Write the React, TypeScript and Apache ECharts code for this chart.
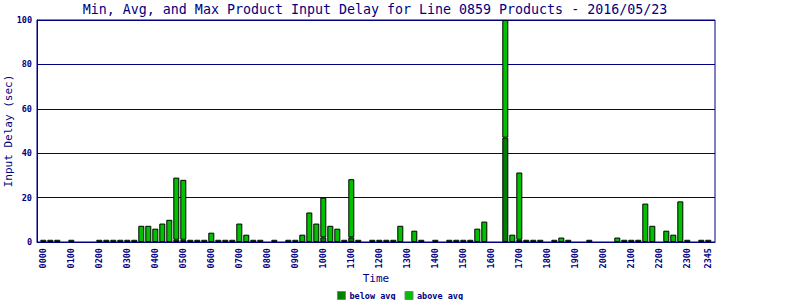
import React, { useEffect, useRef } from "react";
import * as echarts from "echarts";

const titleText = "Min, Avg, and Max Product Input Delay for Line 0859 Products - 2016/05/23";
const seriesNames = ["below avg", "above avg"];
const yTicks = { min: 0, max: 100, interval: 20 };

const times: string[] = [];
for (let h = 0; h < 24; h++) {
  for (let m = 0; m < 60; m += 15) {
    times.push(String(h).padStart(2, "0") + String(m).padStart(2, "0"));
  }
}

const N = null;
// dark green portion (below avg)
const belowAvg: (number | null)[] = [
  N, N, N, N, N, N, N, N,
  N, N, N, N, N, N, N, N,
  N, N, N, 1, 1, N, N, N,
  N, N, N, N, N, N, N, N,
  N, N, N, N, N, N, N, N,
  2.1, N, N, N, 2.1, N, N, N,
  N, N, N, N, N, N, N, N,
  N, N, N, N, N, N, N, N,
  N, N, 47, N, 1, N, N, N,
  N, N, N, N, N, N, N, N,
  N, N, N, N, N, N, N, N,
  N, N, N, N, N, N, N, N,
];
// bright green portion (above avg)
const aboveAvg: (number | null)[] = [
  1, 1, 1, N, 1, N, N, N,
  1, 1, 1, 1, 1, 1, 7.3, 7.3,
  6, 8.3, 10, 28, 27, 1, 1, 1,
  4.2, 1, 1, 1, 8.3, 3.3, 1, 1,
  N, 1, N, 1, 1, 3.3, 13.3, 8.3,
  17.9, 7.3, 6, 1, 26.2, 1, N, 1,
  1, 1, 1, 7.3, N, 5.1, 1, N,
  1, N, 1, 1, 1, 1, 6, 9.2,
  N, N, 53, 3.3, 30.3, 1, 1, 1,
  N, 1, 2, 1, N, N, 1, N,
  N, N, 2, 1, 1, 1, 17.3, 7.3,
  N, 5.1, 3.3, 18.3, 1, N, 1, 1,
];

const NAVY = "#000080";
const DARK = "#008000";
const BRIGHT = "#00c000";
const MONO = "'DejaVu Sans Mono', 'Liberation Mono', monospace";

export default function App() {
  const ref = useRef<HTMLDivElement>(null);
  useEffect(() => {
    if (!ref.current) return;
    const chart = echarts.init(ref.current, undefined, { renderer: "svg" });
    const lastIdx = times.length - 1;
    chart.setOption({
      animation: false,
      backgroundColor: "#ffffff",
      graphic: [
        {
          type: "text",
          x: 375,
          y: 9,
          style: {
            text: titleText,
            fill: NAVY,
            font: `13.3px ${MONO}`,
            textAlign: "center",
            textVerticalAlign: "middle",
          },
        },
      ],
      legend: {
        data: seriesNames,
        left: "center",
        top: 286,
        itemWidth: 8,
        itemHeight: 8,
        itemGap: 9,
        icon: "rect",
        itemStyle: { borderColor: "#808080", borderWidth: 1 },
        textStyle: { color: NAVY, fontFamily: MONO, fontSize: 8.5, fontWeight: "bold", padding: [0, 0, 0, -1] },
      },
      grid: [
        {
          left: 37,
          right: 85,
          top: 20,
          bottom: 58,
          containLabel: false,
          outerBoundsMode: "none",
          show: true,
          borderColor: NAVY,
          borderWidth: 1,
          backgroundColor: "transparent",
        },
        {
          left: 39.8,
          right: 88.2,
          top: 20,
          bottom: 58,
          containLabel: false,
          outerBoundsMode: "none",
        },
      ],
      xAxis: [
        {
          gridIndex: 0,
          type: "value",
          min: 0,
          max: 1,
          name: "Time",
          nameLocation: "middle",
          nameGap: 31,
          nameMoveOverlap: false,
          nameTextStyle: { color: NAVY, fontFamily: MONO, fontSize: 11 },
          axisLine: { show: true, lineStyle: { color: NAVY, width: 1 } },
          axisTick: { show: false },
          axisLabel: { show: false },
          splitLine: { show: false },
        },
        {
          gridIndex: 1,
          type: "category",
          data: times,
          boundaryGap: true,
          axisLine: { show: false },
          axisTick: { show: false },
          axisLabel: {
            interval: (idx: number) => idx % 4 === 0 || idx === lastIdx,
            rotate: 90,
            margin: 6,
            color: NAVY,
            fontFamily: MONO,
            fontSize: 8.5,
            fontWeight: "bold",
          },
        },
      ],
      yAxis: [
        {
          gridIndex: 0,
          type: "value",
          min: yTicks.min,
          max: yTicks.max,
          interval: yTicks.interval,
          name: "Input Delay (sec)",
          nameLocation: "middle",
          nameGap: 23,
          nameMoveOverlap: false,
          nameTextStyle: { color: NAVY, fontFamily: MONO, fontSize: 11 },
          axisLine: { show: true, lineStyle: { color: NAVY, width: 1 } },
          axisTick: { show: false },
          axisLabel: {
            margin: 5,
            color: NAVY,
            fontFamily: MONO,
            fontSize: 8.5,
            fontWeight: "bold",
          },
          splitLine: { show: true, lineStyle: { color: NAVY, width: 1 } },
        },
        {
          gridIndex: 1,
          type: "value",
          min: yTicks.min,
          max: yTicks.max,
          interval: yTicks.interval,
          show: false,
          splitLine: { show: false },
        },
      ],
      series: [
        {
          name: seriesNames[0],
          type: "bar",
          stack: "delay",
          xAxisIndex: 1,
          yAxisIndex: 1,
          data: belowAvg,
          barWidth: 6,
          itemStyle: { color: DARK, borderColor: "#000000", borderWidth: 1 },
        },
        {
          name: seriesNames[1],
          type: "bar",
          stack: "delay",
          xAxisIndex: 1,
          yAxisIndex: 1,
          data: aboveAvg,
          barWidth: 6,
          itemStyle: { color: BRIGHT, borderColor: "#000000", borderWidth: 1 },
        },
      ],
    });
    return () => chart.dispose();
  }, []);
  return (
    <div
      ref={ref}
      style={{ position: "fixed", left: 0, top: 0, width: 800, height: 300 }}
    />
  );
}
